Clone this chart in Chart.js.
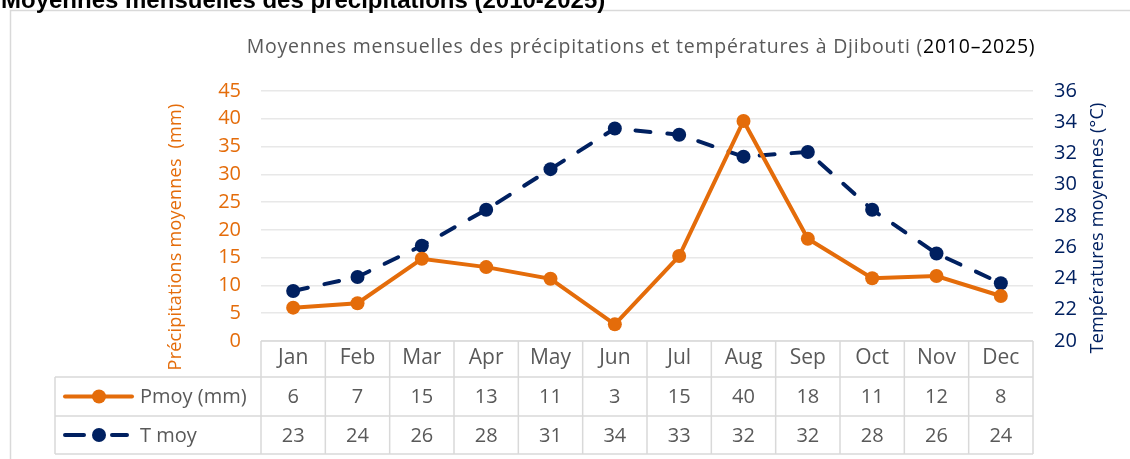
<!DOCTYPE html>
<html>
<head>
<meta charset="utf-8">
<script src="https://cdn.jsdelivr.net/npm/chart.js@4"></script>
<style>
  body { margin: 0; background: #fff; }
</style>
</head>
<body>
<canvas id="climChart" width="1130" height="459"></canvas>
<script>
// Monthly data (Djibouti, 2010-2025)
const months = ['Jan', 'Feb', 'Mar', 'Apr', 'May', 'Jun', 'Jul', 'Aug', 'Sep', 'Oct', 'Nov', 'Dec'];
const pmoy = [6.0, 6.8, 14.8, 13.3, 11.2, 3.0, 15.3, 39.6, 18.4, 11.3, 11.7, 8.1];
const tmoy = [23.2, 24.1, 26.1, 28.4, 31.0, 33.6, 33.2, 31.8, 32.1, 28.4, 25.6, 23.7];
const pTicks = [0, 45, 5];   // min, max, step
const tTicks = [20, 36, 2];

const orange = '#E46C0A';
const navy = '#002060';
const grey = '#595959';
const lineGrey = '#d9d9d9';
const font = '"Open Sans", "Noto Sans", sans-serif';

// spread letters a bit so a text spans roughly the given width
function spread(ctx, text, width) {
    ctx.letterSpacing = '0px';
    const w = ctx.measureText(text).width;
    const ls = Math.max(0, (width - w) / text.length);
    ctx.letterSpacing = ls.toFixed(2) + 'px';
}

// draws frame, titles, axis titles and the data table under the x axis
const tablePlugin = {
    id: 'dataTable',
    afterDraw(chart) {
        const { ctx, chartArea } = chart;
        const x = chart.scales.x;
        const band = (chartArea.right - chartArea.left) / months.length;
        const top = chartArea.bottom;
        const rows = [top, top + 36, top + 75, top + 113];
        const legLeft = 55;

        ctx.save();
        // outer frame
        ctx.strokeStyle = lineGrey;
        ctx.lineWidth = 1.5;
        ctx.strokeRect(10.5, 10.5, 1140, 470);

        // clipped heading above the frame
        ctx.fillStyle = '#000';
        ctx.font = 'bold 24px "Liberation Sans", Arial, sans-serif';
        ctx.textBaseline = 'alphabetic';
        ctx.textAlign = 'left';
        ctx.fillText('Moyennes mensuelles des précipitations (2010-2025)', 1, 8);

        // chart title
        const t1 = 'Moyennes mensuelles des précipitations et températures à Djibouti (';
        const t2 = '2010–2025)';
        ctx.font = '19.5px ' + font;
        spread(ctx, t1 + t2, 789);
        const w1 = ctx.measureText(t1).width, w2 = ctx.measureText(t2).width;
        const tx = 641 - (w1 + w2) / 2;
        ctx.textBaseline = 'middle';
        ctx.fillStyle = grey;
        ctx.fillText(t1, tx, 47);
        ctx.fillStyle = '#000';
        ctx.fillText(t2, tx + w1, 47);

        // axis titles
        ctx.font = '18px ' + font;
        ctx.textAlign = 'center';
        ctx.save();
        ctx.translate(176, 237);
        ctx.rotate(-Math.PI / 2);
        ctx.fillStyle = orange;
        spread(ctx, 'Précipitations moyennes  (mm)', 267);
        ctx.fillText('Précipitations moyennes  (mm)', 0, 0);
        ctx.restore();
        ctx.save();
        ctx.translate(1098, 228);
        ctx.rotate(-Math.PI / 2);
        ctx.fillStyle = navy;
        spread(ctx, 'Températures moyennes (°C)', 251);
        ctx.fillText('Températures moyennes (°C)', 0, 0);
        ctx.restore();
        ctx.letterSpacing = '0px';

        // table grid
        ctx.strokeStyle = lineGrey;
        ctx.lineWidth = 1.5;
        ctx.beginPath();
        ctx.moveTo(chartArea.left, rows[0]);
        ctx.lineTo(chartArea.right, rows[0]);
        for (let r = 1; r < rows.length; r++) {
            ctx.moveTo(legLeft, rows[r]);
            ctx.lineTo(chartArea.right, rows[r]);
        }
        for (let i = 0; i <= months.length; i++) {
            const cx = chartArea.left + i * band;
            ctx.moveTo(cx, rows[0]);
            ctx.lineTo(cx, rows[3]);
        }
        ctx.moveTo(legLeft, rows[1]);
        ctx.lineTo(legLeft, rows[3]);
        ctx.stroke();

        // table values
        ctx.font = '20px ' + font;
        ctx.fillStyle = grey;
        ctx.textAlign = 'center';
        const series = [pmoy, tmoy];
        series.forEach((vals, r) => {
            const cy = (rows[r + 1] + rows[r + 2]) / 2 + 1;
            vals.forEach((v, i) => {
                ctx.fillText(String(Math.round(v)), x.getPixelForValue(i), cy);
            });
        });

        // legend keys in the first column
        const ds = chart.data.datasets;
        ds.forEach((d, r) => {
            const cy = (rows[r + 1] + rows[r + 2]) / 2;
            ctx.strokeStyle = d.borderColor;
            ctx.lineWidth = 4;
            ctx.lineCap = 'round';
            ctx.beginPath();
            if (d.borderDash) {
                ctx.moveTo(65, cy); ctx.lineTo(84, cy);
                ctx.moveTo(112, cy); ctx.lineTo(127, cy);
            } else {
                ctx.moveTo(65, cy); ctx.lineTo(132, cy);
            }
            ctx.stroke();
            ctx.fillStyle = d.borderColor;
            ctx.beginPath();
            ctx.arc(99, cy, 7, 0, Math.PI * 2);
            ctx.fill();
            ctx.fillStyle = grey;
            ctx.textAlign = 'left';
            ctx.fillText(d.label, 140, cy + 1);
        });
        ctx.restore();
    }
};

const config = {
    type: 'line',
    data: {
        labels: months,
        datasets: [
            {
                label: 'Pmoy (mm)',
                data: pmoy,
                yAxisID: 'yP',
                borderColor: orange,
                backgroundColor: orange,
                borderWidth: 4,
                pointRadius: 7,
                pointBorderWidth: 0,
                pointHoverRadius: 7,
                tension: 0
            },
            {
                label: 'T moy',
                data: tmoy,
                yAxisID: 'yT',
                borderColor: navy,
                backgroundColor: navy,
                borderWidth: 4,
                borderDash: [15, 17],
                borderCapStyle: 'round',
                pointRadius: 7,
                pointBorderWidth: 0,
                pointHoverRadius: 7,
                tension: 0
            }
        ]
    },
    options: {
        responsive: false,
        animation: false,
        layout: { padding: { top: 91, left: 0, right: 0, bottom: 0 } },
        plugins: {
            legend: { display: false },
            title: { display: false },
            tooltip: { enabled: false }
        },
        scales: {
            x: {
                offset: true,
                grid: { display: false, drawTicks: false },
                border: { display: false },
                ticks: { color: grey, font: { family: font, size: 21 }, padding: 4, maxRotation: 0 },
                afterFit(scale) { scale.height = 118; }
            },
            yP: {
                position: 'left',
                min: pTicks[0],
                max: pTicks[1],
                ticks: { stepSize: pTicks[2], color: orange, font: { family: font, size: 20 }, padding: 20 },
                grid: { color: '#e8e8e8', lineWidth: 1.5, drawTicks: false },
                border: { display: false },
                afterFit(scale) { scale.width = 261; }
            },
            yT: {
                position: 'right',
                min: tTicks[0],
                max: tTicks[1],
                ticks: { stepSize: tTicks[2], color: navy, font: { family: font, size: 20 }, padding: 21 },
                grid: { display: false, drawTicks: false },
                border: { display: false },
                afterFit(scale) { scale.width = 97; }
            }
        }
    },
    plugins: [tablePlugin]
};

const climChart = new Chart(document.getElementById('climChart'), config);
</script>
</body>
</html>
